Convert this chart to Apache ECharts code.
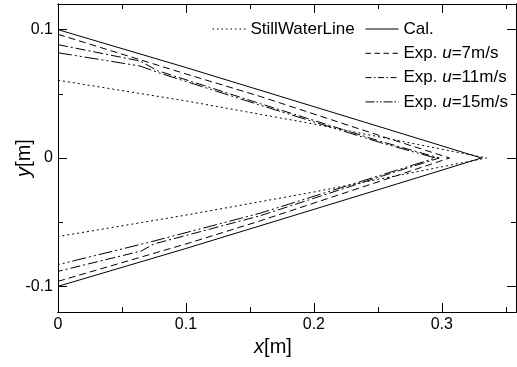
<!DOCTYPE html>
<html>
<head>
<meta charset="utf-8">
<script src="https://cdn.jsdelivr.net/npm/echarts@6/dist/echarts.min.js"></script>
<style>
html,body{margin:0;padding:0;background:#fff;}
#chart{width:517px;height:367px;}
</style>
</head>
<body>
<div id="chart"></div>
<script>
// ---- data ----
const seriesNames = ['StillWaterLine', 'Cal.', 'Exp. u=7m/s', 'Exp. u=11m/s', 'Exp. u=15m/s'];

const swlX = [0, 0.1, 0.2, 0.335, 0.2, 0.1, 0];
const swlY = [0.0606, 0.0445, 0.0265, 0, -0.0265, -0.0445, -0.0612];

const calX = [0, 0.1, 0.25, 0.331, 0.25, 0.1, 0];
const calY = [0.1, 0.0705, 0.0248, 0, -0.0248, -0.0705, -0.1];

const exp7X = [0, 0.1, 0.158, 0.252, 0.306, 0.252, 0.158, 0.1, 0];
const exp7Y = [0.0964, 0.0655, 0.048, 0.0173, 0, -0.018, -0.049, -0.067, -0.0961];

const exp11X = [0, 0.064, 0.078, 0.158, 0.252, 0.298, 0.252, 0.158, 0.075, 0.065, 0];
const exp11Y = [0.0883, 0.0756, 0.068, 0.0424, 0.013, 0, -0.0145, -0.045, -0.067, -0.0725, -0.0883];

const exp15X = [0, 0.064, 0.08, 0.158, 0.252, 0.295, 0.252, 0.158, 0.07, 0];
const exp15Y = [0.082, 0.0717, 0.066, 0.0412, 0.012, 0, -0.0135, -0.043, -0.066, -0.0831];

const xMajorTicks = [0, 0.1, 0.2, 0.3];
const xMinorTicks = [0.05, 0.15, 0.25, 0.35];
const yMajorTicks = [-0.1, 0, 0.1];
const yMinorTicks = [-0.05, 0.05];
const xRange = [0, 0.358];
const yRange = [-0.12, 0.12];

// ---- chart ----
const FONT = 'Liberation Sans, Arial, sans-serif';
const zip = (xs, ys) => xs.map((x, i) => [x, ys[i]]);
const dashes = [[2, 3], null, [7, 4], [10, 3, 2, 3], [14, 3, 2, 3, 2, 3]];
const legendDashes = [[1.5, 3], null, [5.5, 3.5], [6, 2.5, 1.5, 2.5], [9, 2, 1.5, 2, 1.5, 2]];
const seriesData = [zip(swlX, swlY), zip(calX, calY), zip(exp7X, exp7Y), zip(exp11X, exp11Y), zip(exp15X, exp15Y)];

function xAx(pos, ticks, len, opts) {
  return Object.assign({
    type: 'value', position: pos, min: xRange[0], max: xRange[1],
    axisLine: { show: true, onZero: false, lineStyle: { color: '#000', width: 1 } },
    axisTick: { show: true, inside: true, length: len, customValues: ticks, lineStyle: { color: '#000', width: 1 } },
    axisLabel: { show: false },
    splitLine: { show: false }
  }, opts || {});
}
function yAx(pos, ticks, len, opts) {
  return Object.assign({
    type: 'value', position: pos, min: yRange[0], max: yRange[1],
    axisLine: { show: true, onZero: false, lineStyle: { color: '#000', width: 1 } },
    axisTick: { show: true, inside: true, length: len, customValues: ticks, lineStyle: { color: '#000', width: 1 } },
    axisLabel: { show: false },
    splitLine: { show: false }
  }, opts || {});
}
const fmt = v => (Math.abs(v) < 1e-9 ? '0' : String(+v.toFixed(2)));
const legendItem = i => ({ name: seriesNames[i], lineStyle: { type: legendDashes[i] || 'solid', color: '#000', width: 1 } });

const option = {
  animation: false,
  backgroundColor: '#fff',
  grid: { left: 58, right: 1, top: 4, bottom: 55, containLabel: false, outerBoundsMode: 'none' },
  xAxis: [
    xAx('bottom', xMajorTicks, 9, {
      axisLabel: { show: true, customValues: xMajorTicks, formatter: fmt, margin: 5, fontSize: 16, color: '#000', fontFamily: FONT },
      name: '{i|x}[m]', nameLocation: 'middle', nameGap: 25, nameMoveOverlap: false,
      nameTextStyle: { fontSize: 20, color: '#000', fontFamily: FONT, padding: [0, 28, 0, 0],
        rich: { i: { fontStyle: 'italic', fontSize: 20, fontFamily: FONT, color: '#000' } } }
    }),
    xAx('bottom', xMinorTicks, 5),
    xAx('top', xMajorTicks, 9),
    xAx('top', xMinorTicks, 5)
  ],
  yAxis: [
    yAx('left', yMajorTicks, 9, {
      axisLabel: { show: true, customValues: yMajorTicks, formatter: fmt, margin: 5, fontSize: 16, color: '#000', fontFamily: FONT },
      name: '{i|y}[m]', nameLocation: 'middle', nameGap: 24, nameMoveOverlap: false,
      nameTextStyle: { fontSize: 20, color: '#000', fontFamily: FONT,
        rich: { i: { fontStyle: 'italic', fontSize: 20, fontFamily: FONT, color: '#000' } } }
    }),
    yAx('left', yMinorTicks, 5),
    yAx('right', yMajorTicks, 9),
    yAx('right', yMinorTicks, 5)
  ],
  legend: [
    {
      data: [legendItem(0)], left: 212, top: 20.5, padding: 0, itemWidth: 33, itemHeight: 16,
      itemStyle: { opacity: 0, borderWidth: 0 },
      textStyle: { fontSize: 17, color: '#000', fontFamily: FONT }
    },
    {
      data: [1, 2, 3, 4].map(legendItem), orient: 'vertical', left: 365, top: 20.5, padding: 0, itemWidth: 33, itemHeight: 16, itemGap: 7.3,
      itemStyle: { opacity: 0, borderWidth: 0 },
      formatter: n => n.replace('u=', '{i|u}='),
      textStyle: { fontSize: 17, color: '#000', fontFamily: FONT,
        rich: { i: { fontStyle: 'italic', fontSize: 17, fontFamily: FONT, color: '#000' } } }
    }
  ],
  series: seriesNames.map((n, i) => ({
    name: n, type: 'line', data: seriesData[i], showSymbol: false, symbol: 'none',
    xAxisIndex: 0, yAxisIndex: 0,
    lineStyle: { color: '#000', width: 1, type: dashes[i] || 'solid' },
    itemStyle: { color: '#000' }
  }))
};

const chart = echarts.init(document.getElementById('chart'), null, { renderer: 'canvas' });
chart.setOption(option);
</script>
</body>
</html>
